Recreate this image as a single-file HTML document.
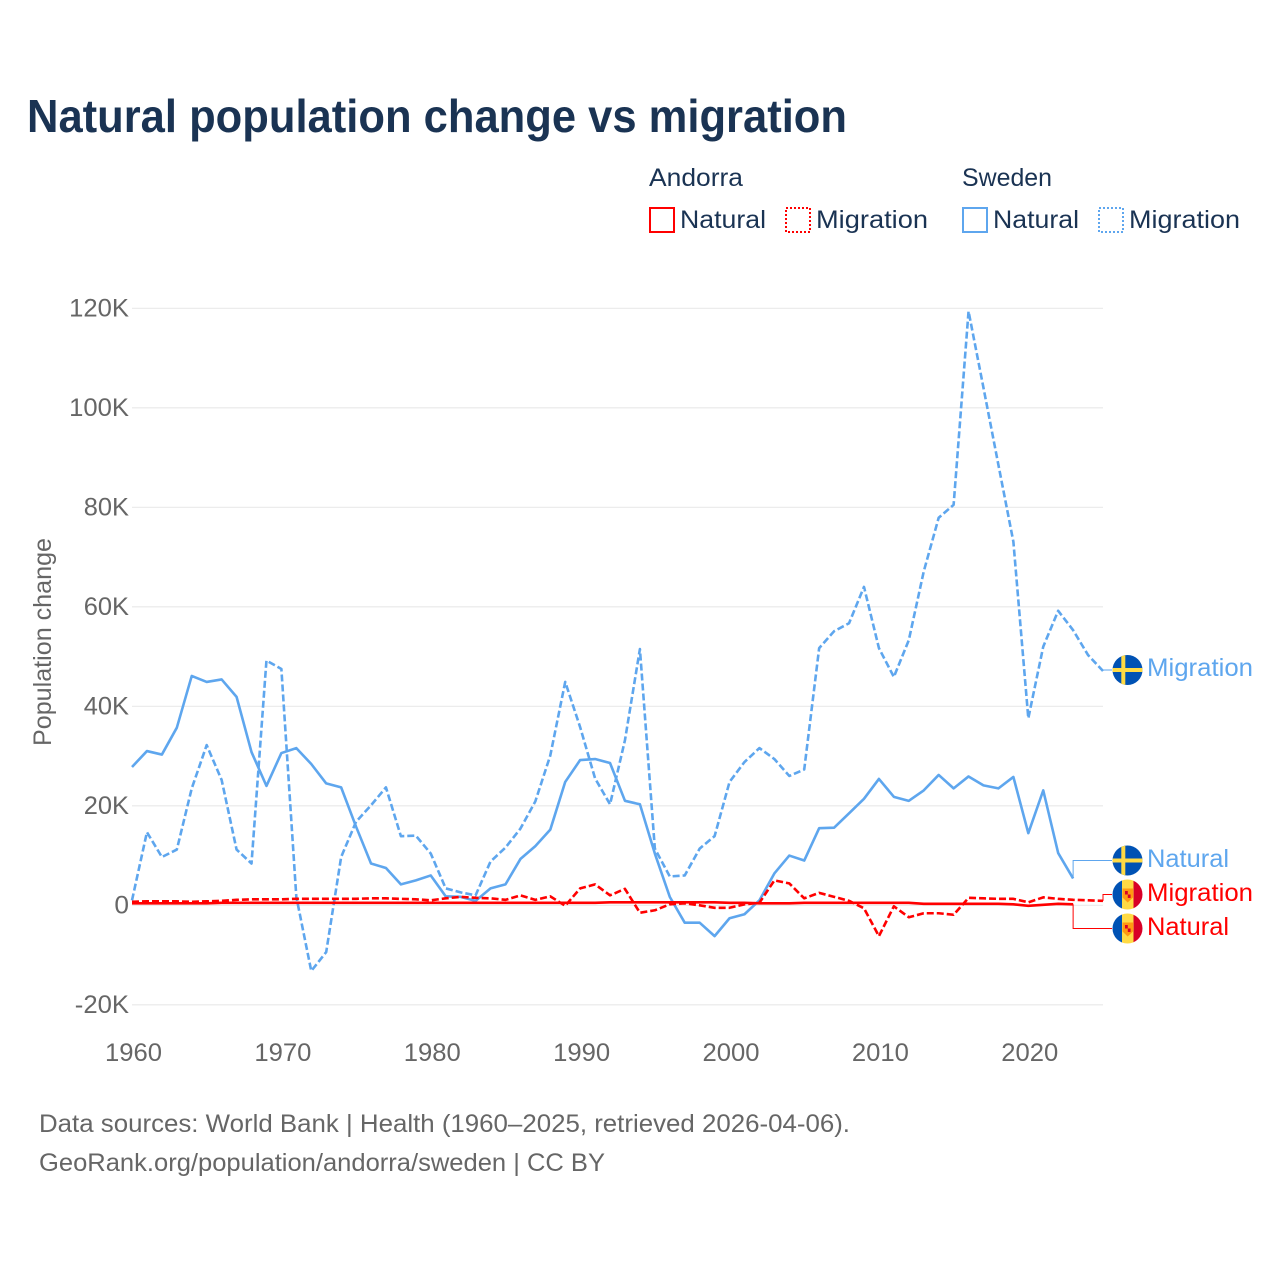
<!DOCTYPE html>
<html lang="en">
<head>
<meta charset="utf-8">
<title>Natural population change vs migration</title>
<style>
html,body{margin:0;padding:0;background:#fff;}
svg{display:block;font-family:"Liberation Sans",Arial,sans-serif;}
.lg{font-size:25px;fill:#1a3353;}
.src{font-size:25px;fill:#666;}
.tick{font-size:25px;fill:#666;}
</style>
</head>
<body>
<svg id="chart" xmlns="http://www.w3.org/2000/svg" width="1280" height="1280" viewBox="0 0 1280 1280">
  <defs>
    <clipPath id="flag-clip"><circle cx="0" cy="0" r="15"></circle></clipPath>
    <g id="flag-se">
      <g clip-path="url(#flag-clip)">
        <rect x="-16" y="-16" width="32" height="32" fill="#0052b4"></rect>
        <rect x="-6.2" y="-16" width="4" height="32" fill="#ffda44"></rect>
        <rect x="-16" y="-2" width="32" height="4" fill="#ffda44"></rect>
      </g>
    </g>
    <g id="flag-ad">
      <g clip-path="url(#flag-clip)">
        <rect x="-16" y="-16" width="11" height="32" fill="#0052b4"></rect>
        <rect x="-5.5" y="-16" width="12" height="32" fill="#ffda44"></rect>
        <rect x="6" y="-16" width="10" height="32" fill="#d80027"></rect>
        <path d="M-5,-6 H5.5 V3 L0.2,8 L-5,3 Z" fill="#ff9811"></path>
        <rect x="-2.5" y="-3.5" width="2.8" height="3.5" fill="#d80027"></rect>
        <rect x="0.3" y="0" width="2.8" height="3.5" fill="#d80027"></rect>
      </g>
    </g>
  </defs>
  <rect x="0" y="0" width="1280" height="1280" fill="#fff"></rect>

  <text x="27" y="132" font-size="46" font-weight="700" fill="#1a3353" textLength="820" lengthAdjust="spacingAndGlyphs">Natural population change vs migration</text>

  <g>
    <text class="lg" x="649" y="186" textLength="94" lengthAdjust="spacingAndGlyphs">Andorra</text>
    <text class="lg" x="962" y="186" textLength="90" lengthAdjust="spacingAndGlyphs">Sweden</text>

    <rect x="650" y="208" width="24" height="24" fill="none" stroke="#ff0000" stroke-width="2"></rect>
    <text class="lg" x="680" y="228" textLength="86" lengthAdjust="spacingAndGlyphs">Natural</text>
    <rect x="786" y="208" width="24" height="24" fill="none" stroke="#ff0000" stroke-width="2" stroke-dasharray="2 2"></rect>
    <text class="lg" x="816" y="228" textLength="112" lengthAdjust="spacingAndGlyphs">Migration</text>

    <rect x="963" y="208" width="24" height="24" fill="none" stroke="#5ea6ee" stroke-width="2"></rect>
    <text class="lg" x="993" y="228" textLength="86" lengthAdjust="spacingAndGlyphs">Natural</text>
    <rect x="1099" y="208" width="24" height="24" fill="none" stroke="#5ea6ee" stroke-width="2" stroke-dasharray="2 2"></rect>
    <text class="lg" x="1129" y="228" textLength="111" lengthAdjust="spacingAndGlyphs">Migration</text>
  </g>

  <text class="tick" transform="translate(51,642) rotate(-90)" text-anchor="middle" textLength="208" lengthAdjust="spacingAndGlyphs">Population change</text>

  <g id="grid"></g>
  <g id="y-ticks"></g>
  <g id="x-ticks"></g>
  <g id="series"></g>

  <g>
    <use href="#flag-se" x="1127.5" y="670"></use>
    <text x="1147" y="676" font-size="25" fill="#5ea6ee" textLength="106" lengthAdjust="spacingAndGlyphs">Migration</text>
    <use href="#flag-se" x="1127.5" y="860.5"></use>
    <text x="1147" y="867" font-size="25" fill="#5ea6ee" textLength="82" lengthAdjust="spacingAndGlyphs">Natural</text>
    <use href="#flag-ad" x="1127.5" y="894.5"></use>
    <text x="1147" y="901" font-size="25" fill="#ff0000" textLength="106" lengthAdjust="spacingAndGlyphs">Migration</text>
    <use href="#flag-ad" x="1127.5" y="928.5"></use>
    <text x="1147" y="935" font-size="25" fill="#ff0000" textLength="82" lengthAdjust="spacingAndGlyphs">Natural</text>
  </g>

  <g>
    <text class="src" x="39" y="1132" textLength="811" lengthAdjust="spacingAndGlyphs">Data sources: World Bank | Health (1960–2025, retrieved 2026-04-06).</text>
    <a><text class="src" x="39" y="1171" textLength="566" lengthAdjust="spacingAndGlyphs">GeoRank.org/population/andorra/sweden | CC BY</text></a>
  </g>
</svg>

<script>
const startYear = 1960;
const xTickYears = [1960, 1970, 1980, 1990, 2000, 2010, 2020];
const yTickValues = [-20, 0, 20, 40, 60, 80, 100, 120];
const yTickLabels = ['-20K', '0', '20K', '40K', '60K', '80K', '100K', '120K'];

// Values in thousands of people, one per year from 1960
const swedenNatural = [
  27.8, 31.0, 30.3, 35.7, 46.1, 44.9, 45.4, 41.9, 30.8, 24.0,
  30.6, 31.6, 28.4, 24.5, 23.7, 15.8, 8.4, 7.5, 4.2, 5.0,
  6.0, 1.8, 1.7, 0.9, 3.4, 4.2, 9.3, 11.9, 15.2, 24.8,
  29.2, 29.4, 28.6, 21.0, 20.3, 10.4, 1.7, -3.5, -3.5, -6.2,
  -2.6, -1.8, 1.0, 6.4, 10.0, 9.0, 15.5, 15.6, 18.5, 21.4,
  25.4, 21.8, 21.0, 23.1, 26.2, 23.5, 25.9, 24.1, 23.5, 25.8,
  14.5, 23.1, 10.5, 5.4
];
const swedenMigration = [
  1.0, 14.7, 9.7, 11.2, 23.5, 32.2, 25.2, 11.2, 8.4, 49.2,
  47.5, 1.7, -13.2, -9.4, 9.7, 16.8, 20.1, 23.7, 13.9, 14.0,
  10.4, 3.4, 2.6, 2.0, 8.8, 11.6, 15.4, 20.9, 30.1, 44.9,
  35.8, 25.5, 20.3, 33.2, 51.5, 11.4, 5.8, 6.0, 11.4, 13.9,
  24.8, 28.8, 31.6, 29.4, 26.0, 27.3, 51.7, 55.1, 56.7, 64.0,
  51.7, 45.9, 53.3, 67.1, 77.9, 80.5, 119.4, 104.0, 88.5, 73.1,
  37.6, 52.0, 59.2, 55.3, 50.3, 47.1
];
const andorraNatural = [
  0.4, 0.4, 0.4, 0.4, 0.4, 0.4, 0.5, 0.5, 0.5, 0.5,
  0.5, 0.5, 0.5, 0.5, 0.5, 0.5, 0.5, 0.5, 0.5, 0.5,
  0.5, 0.5, 0.5, 0.5, 0.5, 0.5, 0.5, 0.5, 0.5, 0.5,
  0.5, 0.5, 0.6, 0.6, 0.6, 0.6, 0.6, 0.6, 0.6, 0.6,
  0.5, 0.5, 0.4, 0.4, 0.4, 0.5, 0.5, 0.5, 0.5, 0.5,
  0.5, 0.5, 0.5, 0.3, 0.3, 0.3, 0.3, 0.3, 0.3, 0.2,
  -0.1, 0.1, 0.3, 0.2
];
const andorraMigration = [
  0.7, 0.8, 0.8, 0.8, 0.7, 0.8, 0.9, 1.1, 1.2, 1.2,
  1.2, 1.3, 1.3, 1.3, 1.3, 1.3, 1.4, 1.4, 1.3, 1.2,
  1.0, 1.4, 1.7, 1.5, 1.4, 1.1, 2.0, 1.1, 1.8, -0.1,
  3.4, 4.2, 2.0, 3.3, -1.5, -1.0, 0.2, 0.4, 0.0, -0.5,
  -0.5, 0.2, 0.5, 5.0, 4.4, 1.4, 2.5, 1.7, 0.9, -0.6,
  -6.2, -0.2, -2.4, -1.6, -1.6, -1.9, 1.5, 1.4, 1.3, 1.3,
  0.6, 1.6, 1.3, 1.1, 1.0, 0.9
];

const NS = 'http://www.w3.org/2000/svg';
const BLUE = '#5ea6ee';
const RED = '#ff0000';
const plotLeft = 132, plotRight = 1103;
const flagEdge = 1112;

function xScale(year) { return plotLeft + (year - 1960) * (plotRight - plotLeft) / 65; }
function yScale(v) { return 905.3 - v * 4.975; }

function make(tag, attrs, parent) {
  const el = document.createElementNS(NS, tag);
  for (const k in attrs) el.setAttribute(k, attrs[k]);
  parent.appendChild(el);
  return el;
}

const gridG = document.getElementById('grid');
const yG = document.getElementById('y-ticks');
const xG = document.getElementById('x-ticks');
const seriesG = document.getElementById('series');

yTickValues.forEach(function (v, i) {
  const line = make('line', { x1: plotLeft, x2: plotRight, y1: yScale(v), y2: yScale(v), stroke: '#e9e9e9', 'stroke-width': 1.2 }, gridG);
  
  
  const label = yTickLabels[i];
  const digits = label.replace(/[^0-9]/g, '').length;
  const width = digits * 14.6 + (label.indexOf('K') >= 0 ? 16 : 0) + (label.indexOf('-') >= 0 ? 9 : 0);
  const t = make('text', { x: 129, y: yScale(v) + 8, 'text-anchor': 'end', class: 'tick', textLength: width, lengthAdjust: 'spacingAndGlyphs' }, yG);
  t.textContent = label;
  
  
});

xTickYears.forEach(function (yr) {
  const t = make('text', { x: xScale(yr) + 1.5, y: 1061, 'text-anchor': 'middle', class: 'tick', textLength: 57, lengthAdjust: 'spacingAndGlyphs' }, xG);
  t.textContent = String(yr);
  
  
});

function seriesPath(values) {
  return values.map(function (v, i) {
    return (i ? 'L' : 'M') + xScale(startYear + i).toFixed(2) + ' ' + yScale(v).toFixed(2);
  }).join(' ');
}

function lastPoint(values) {
  const i = values.length - 1;
  return { x: xScale(startYear + i), y: yScale(values[i]) };
}

function connector(values, flagY, color) {
  const p = lastPoint(values);
  return make('path', { d: 'M' + p.x.toFixed(2) + ' ' + p.y.toFixed(2) + ' V' + flagY + ' H' + flagEdge, fill: 'none', stroke: color, 'stroke-width': 1 }, seriesG);
}

const c1 = connector(swedenMigration, 670, BLUE);


const c2 = connector(swedenNatural, 860.5, BLUE);


const c3 = connector(andorraMigration, 894.5, RED);


const c4 = connector(andorraNatural, 928.5, RED);



const lineStyle = { fill: 'none', 'stroke-width': 2.6, 'stroke-linejoin': 'round' };

const l1 = make('path', Object.assign({ d: seriesPath(swedenMigration), stroke: BLUE, 'stroke-dasharray': '7 3' }, lineStyle), seriesG);


const l2 = make('path', Object.assign({ d: seriesPath(swedenNatural), stroke: BLUE }, lineStyle), seriesG);


const l3 = make('path', Object.assign({ d: seriesPath(andorraMigration), stroke: RED, 'stroke-dasharray': '7 3' }, lineStyle), seriesG);


const l4 = make('path', Object.assign({ d: seriesPath(andorraNatural), stroke: RED }, lineStyle), seriesG);


</script>
</body>
</html>
